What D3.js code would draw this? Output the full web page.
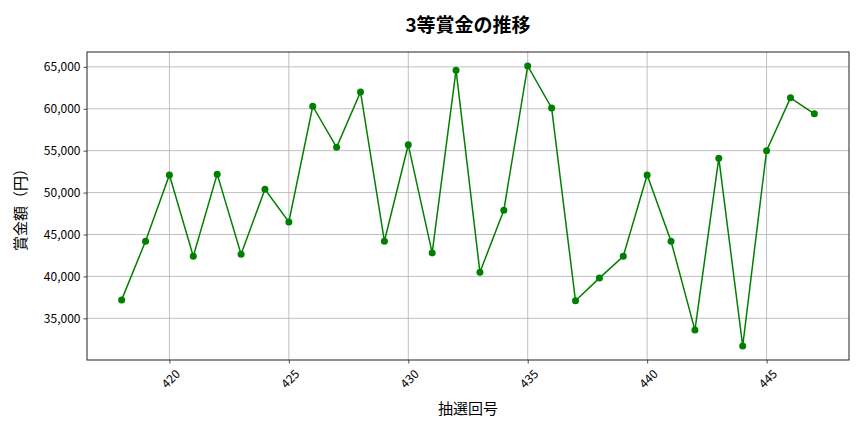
<!DOCTYPE html>
<html>
<head>
<meta charset="utf-8">
<script src="https://cdn.jsdelivr.net/npm/d3@7"></script>
<style>
  body { margin: 0; background: #fff; }
  text { font-family: "Noto Sans CJK JP", "Noto Sans", sans-serif; fill: #000; }
</style>
</head>
<body>
<div id="container"></div>
<script>
const w = 864,
  h = 432;
const margin = { top: 52, right: 15, bottom: 72, left: 87 };

// 抽選回
const draws = [418, 419, 420, 421, 422, 423, 424, 425, 426, 427, 428, 429, 430, 431, 432,
  433, 434, 435, 436, 437, 438, 439, 440, 441, 442, 443, 444, 445, 446, 447];
// 3等賞金（円）
const prizes = [37200, 44200, 52100, 42400, 52200, 42650, 50400, 46500, 60300, 55400,
  62000, 44200, 55700, 42800, 64600, 40500, 47900, 65100, 60100, 37100,
  39800, 42400, 52100, 44200, 33600, 54100, 31700, 55000, 61300, 59400];
const xTicks = [420, 425, 430, 435, 440, 445];
const yTicks = [35000, 40000, 45000, 50000, 55000, 60000, 65000];

const title = '3等賞金の推移';
const xLabel = '抽選回号';
const yLabel = '賞金額（円）';

const pw = w - margin.left - margin.right,
  ph = h - margin.top - margin.bottom;

const svg = d3.select('#container').append('svg').attr('width', w).attr('height', h);
const g = svg.append('g').attr('transform', 'translate(' + margin.left + ',' + margin.top + ')');

// matplotlib style 5% margins
const xPad = (d3.max(draws) - d3.min(draws)) * 0.05;
const yPad = (d3.max(prizes) - d3.min(prizes)) * 0.05;

const xScale = d3.scaleLinear()
  .domain([d3.min(draws) - xPad, d3.max(draws) + xPad])
  .range([0, pw]);
const yScale = d3.scaleLinear()
  .domain([d3.min(prizes) - yPad, d3.max(prizes) + yPad])
  .range([ph, 0]);

// grid
g.append('g')
  .selectAll('line')
  .data(xTicks)
  .enter()
  .append('line')
  .attr('x1', (d) => xScale(d))
  .attr('x2', (d) => xScale(d))
  .attr('y1', 0)
  .attr('y2', ph)
  .attr('stroke', '#b0b0b0')
  .attr('stroke-width', 0.8);
g.append('g')
  .selectAll('line')
  .data(yTicks)
  .enter()
  .append('line')
  .attr('x1', 0)
  .attr('x2', pw)
  .attr('y1', (d) => yScale(d))
  .attr('y2', (d) => yScale(d))
  .attr('stroke', '#b0b0b0')
  .attr('stroke-width', 0.8);

// axes
const xAxis = d3.axisBottom(xScale).tickValues(xTicks).tickFormat(d3.format('d')).tickSize(3.5).tickPadding(3);
const yAxis = d3.axisLeft(yScale).tickValues(yTicks).tickFormat(d3.format(',')).tickSize(3.5).tickPadding(3);

const gx = g.append('g').attr('transform', 'translate(0,' + ph + ')').call(xAxis);
gx.select('.domain').remove();
gx.selectAll('line').attr('stroke', '#222').attr('stroke-width', 0.8);
gx.selectAll('text')
  .attr('font-size', 12)
  .attr('text-anchor', 'middle')
  .attr('dy', null)
  .attr('y', 0)
  .attr('transform', 'translate(0,18) rotate(-45)')
  .attr('dominant-baseline', 'central');

const gy = g.append('g').call(yAxis);
gy.select('.domain').remove();
gy.selectAll('line').attr('stroke', '#222').attr('stroke-width', 0.8);
gy.selectAll('text').attr('font-size', 12);

// frame
g.append('rect')
  .attr('width', pw)
  .attr('height', ph)
  .attr('fill', 'none')
  .attr('stroke', '#222')
  .attr('stroke-width', 1);

// line + markers
const line = d3.line()
  .x((d, i) => xScale(draws[i]))
  .y((d) => yScale(d));

g.append('path')
  .datum(prizes)
  .attr('d', line)
  .attr('fill', 'none')
  .attr('stroke', '#008000')
  .attr('stroke-width', 1.5);

g.selectAll('circle')
  .data(prizes)
  .enter()
  .append('circle')
  .attr('cx', (d, i) => xScale(draws[i]))
  .attr('cy', (d) => yScale(d))
  .attr('r', 3.5)
  .attr('fill', '#008000');

// titles
svg.append('text')
  .text(title)
  .attr('x', margin.left + pw / 2)
  .attr('y', 32)
  .attr('text-anchor', 'middle')
  .attr('font-size', 19)
  .attr('font-weight', 'bold');

svg.append('text')
  .text(xLabel)
  .attr('x', margin.left + pw / 2)
  .attr('y', 414)
  .attr('text-anchor', 'middle')
  .attr('font-size', 15);

svg.append('text')
  .text(yLabel)
  .attr('transform', 'translate(26,' + (margin.top + ph / 2) + ') rotate(-90)')
  .attr('text-anchor', 'middle')
  .attr('font-size', 15);
</script>
</body>
</html>
